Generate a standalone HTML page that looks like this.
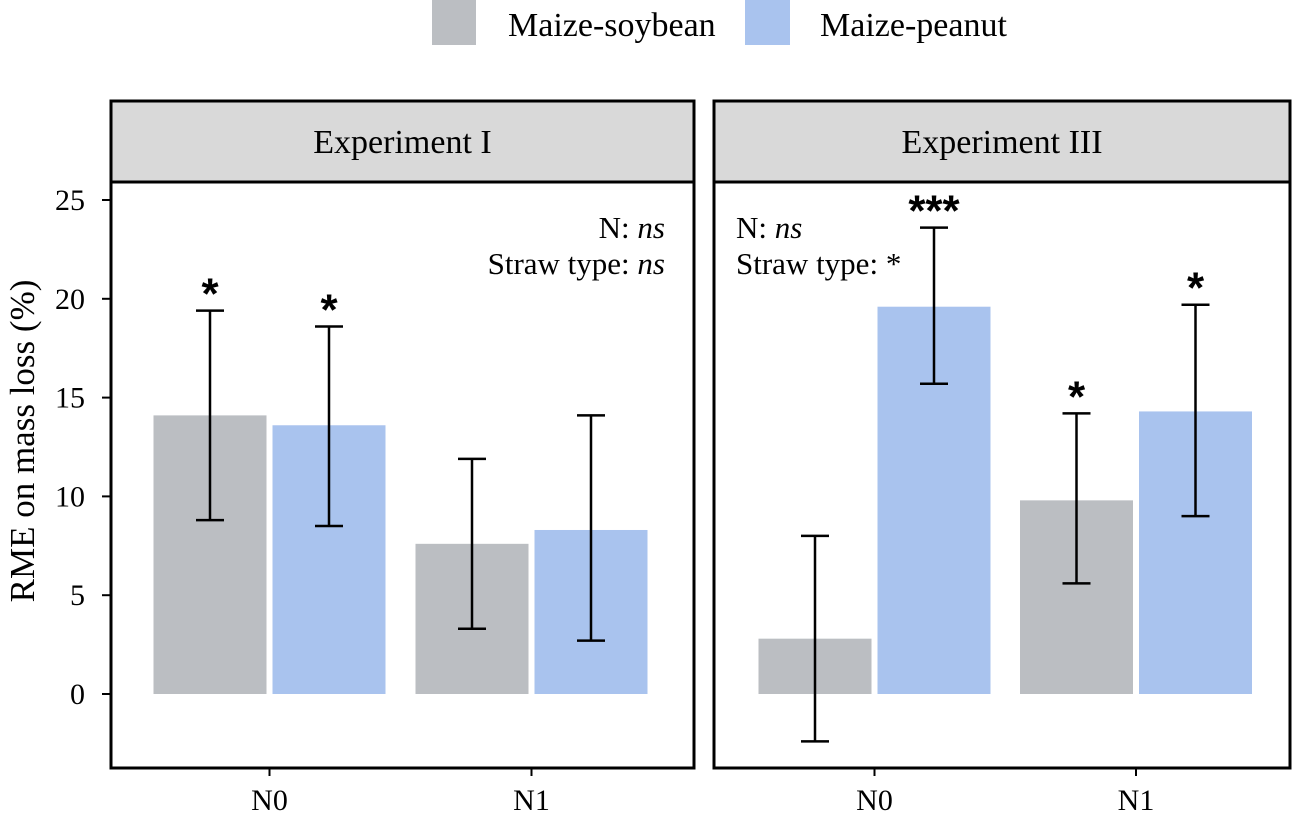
<!DOCTYPE html>
<html><head><meta charset="utf-8"><style>
body{margin:0;background:#fff;width:1299px;height:821px;overflow:hidden}
svg{display:block}
text{font-family:"Liberation Serif",serif;fill:#000}
</style></head><body>
<svg id="c" width="1299" height="821" xmlns="http://www.w3.org/2000/svg">
<g>
<rect x="432" y="0" width="44" height="45" fill="#bbbec2"/>
<text x="508" y="36" font-size="34">Maize-soybean</text>
<rect x="745" y="0" width="45" height="45" fill="#a9c3ee"/>
<text x="820" y="36" font-size="34">Maize-peanut</text>
</g>
<text transform="translate(34,441) rotate(-90)" text-anchor="middle" font-size="35">RME on mass loss (%)</text>
</svg>
<script>
const groups=['N0','N1'];
const panels=['Experiment I','Experiment III'];
const soyVals=[[14.1,7.6],[2.8,9.8]];
const soyLo=[[8.8,3.3],[-2.4,5.6]];
const soyHi=[[19.4,11.9],[8.0,14.2]];
const peaVals=[[13.6,8.3],[19.6,14.3]];
const peaLo=[[8.5,2.7],[15.7,9.0]];
const peaHi=[[18.6,14.1],[23.6,19.7]];
const soySig=[['*',''],['','*']];
const peaSig=[['*',''],['***','*']];
const yTicks=[0,5,10,15,20,25];
const notes=[['N: ','ns','Straw type: ','ns'],['N: ','ns','Straw type: ','*']];

const svg=document.getElementById('c');
const NS='http://www.w3.org/2000/svg';
function mk(t,a,p){const e=document.createElementNS(NS,t);for(const k in a)e.setAttribute(k,a[k]);(p||svg).appendChild(e);return e;}
const y=v=>694-v*19.76;
const panelX=[111,714], panelW=[583,576];
const groupC=[[269.5,531.5],[874.5,1136]];
const bw=113, gap=6;
for(let p=0;p<2;p++){
  const g=mk('g',{});
  
  
  const px=panelX[p],pw=panelW[p];
  const st=mk('rect',{x:px,y:101,width:pw,height:81,fill:'#d9d9d9',stroke:'#000','stroke-width':3},g);
  
  
  const stt=mk('text',{x:px+pw/2,y:153,'text-anchor':'middle','font-size':34},g);stt.textContent=panels[p];
  
  
  for(let i=0;i<2;i++){
    const c=groupC[p][i];
    const sets=[[soyVals,soyLo,soyHi,soySig,'#bbbec2',c-gap/2-bw],[peaVals,peaLo,peaHi,peaSig,'#a9c3ee',c+gap/2]];
    sets.forEach((s,k)=>{
      const v=s[0][p][i],lo=s[1][p][i],hi=s[2][p][i],sg=s[3][p][i];
      const r=mk('rect',{x:s[5],y:Math.min(y(v),y(0)),width:bw,height:Math.abs(y(0)-y(v)),fill:s[4]},g);
      
      
      const cx=s[5]+bw/2;
      const eb=mk('path',{d:`M${cx-14},${y(hi)}H${cx+14}M${cx},${y(hi)}V${y(lo)}M${cx-14},${y(lo)}H${cx+14}`,stroke:'#000','stroke-width':2.5,fill:'none'},g);
      
      
      if(sg){const t=mk('text',{x:cx,y:y(hi)-2,'text-anchor':'middle','font-size':44,'font-weight':'bold',style:'font-family:"Liberation Sans",sans-serif'},g);t.textContent=sg;
        
        }
    });
    const tk=mk('line',{x1:c,x2:c,y1:768,y2:776,stroke:'#000','stroke-width':2},g);
    
    
    const tl=mk('text',{x:c,y:810,'text-anchor':'middle','font-size':30},g);tl.textContent=groups[i];
    
    
  }
  const fr=mk('rect',{x:px,y:182,width:pw,height:586,fill:'none',stroke:'#000','stroke-width':3},g);
  
  
  const n=notes[p];
  const ax=p==0?px+pw-29:px+22, anc=p==0?'end':'start';
  const t1=mk('text',{x:ax,y:238,'text-anchor':anc,'font-size':31},g);
  t1.innerHTML=n[0]+'<tspan font-style="italic">'+n[1]+'</tspan>';
  
  
  const t2=mk('text',{x:ax,y:274,'text-anchor':anc,'font-size':31},g);
  t2.innerHTML=n[2]+'<tspan'+(n[3]=='ns'?' font-style="italic"':'')+'>'+n[3]+'</tspan>';
  
  
}
yTicks.forEach(v=>{
  const l=mk('line',{x1:102,x2:110,y1:y(v),y2:y(v),stroke:'#000','stroke-width':2});
  
  
  const t=mk('text',{x:85,y:y(v)+10,'text-anchor':'end','font-size':30});t.textContent=v;
  
  
});
</script>
</body></html>
